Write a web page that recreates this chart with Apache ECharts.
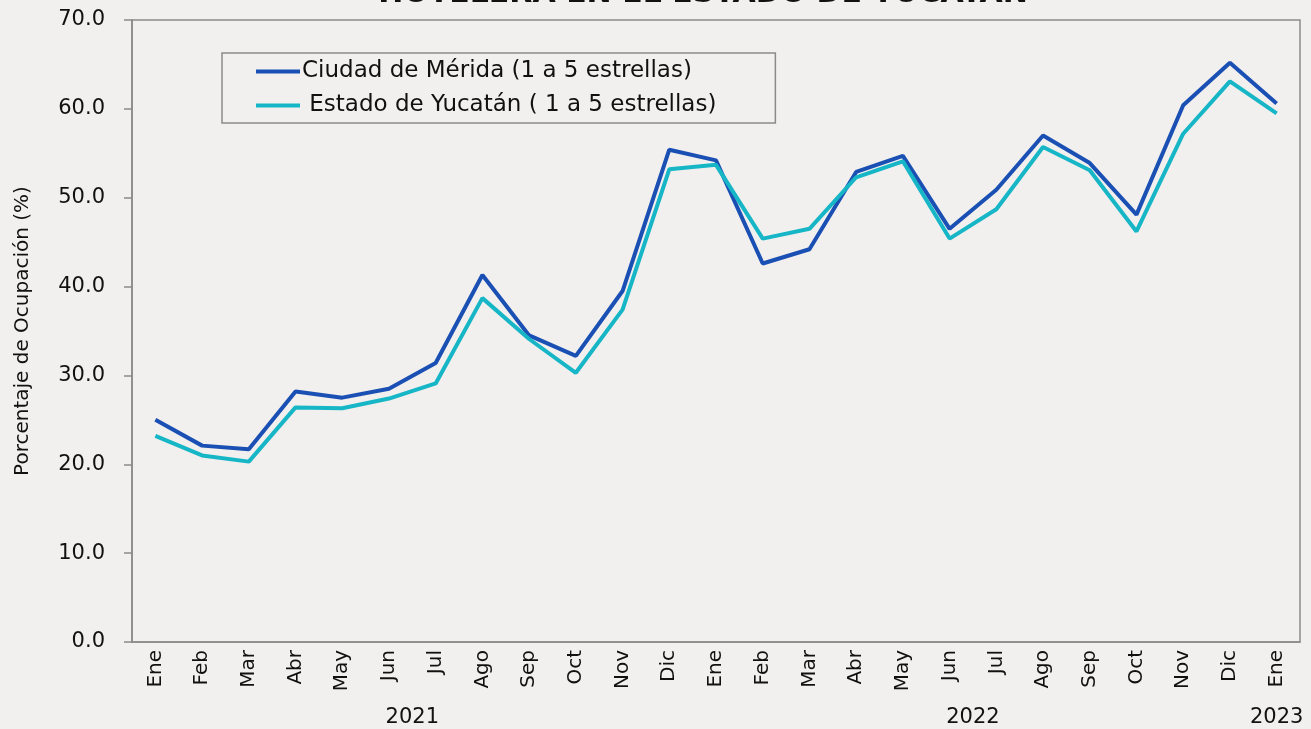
<!DOCTYPE html>
<html>
<head>
<meta charset="utf-8">
<script src="https://cdn.jsdelivr.net/npm/echarts@6/dist/echarts.min.js"></script>
<style>
  html, body { margin: 0; padding: 0; background: #f1f0ee; }
  #chart { width: 1311px; height: 729px; }
</style>
</head>
<body>
<div id="chart"></div>
<script>
const months = ['Ene','Feb','Mar','Abr','May','Jun','Jul','Ago','Sep','Oct','Nov','Dic',
                'Ene','Feb','Mar','Abr','May','Jun','Jul','Ago','Sep','Oct','Nov','Dic','Ene'];
const categories = months.map((m, i) => m + '|' + i);
const years = ['2021', '2022', '2023'];
const yearSpans = [[0, 11], [12, 23], [24, 24]];
const merida = [25.0, 22.1, 21.7, 28.2, 27.5, 28.5, 31.4, 41.3, 34.5, 32.2, 39.5, 55.4,
                54.2, 42.6, 44.2, 52.9, 54.7, 46.5, 50.9, 57.0, 53.9, 48.1, 60.4, 65.2, 60.6];
const yucatan = [23.2, 21.0, 20.3, 26.4, 26.3, 27.4, 29.1, 38.7, 34.1, 30.3, 37.4, 53.2,
                 53.7, 45.4, 46.5, 52.3, 54.1, 45.4, 48.7, 55.7, 53.1, 46.2, 57.2, 63.1, 59.5];
const seriesNames = ['Ciudad de Mérida (1 a 5 estrellas)', ' Estado de Yucatán ( 1 a 5 estrellas)'];
const titleText = 'HOTELERA EN EL ESTADO DE YUCATÁN';
const yName = 'Porcentaje de Ocupación (%)';

const FONT = 'DejaVu Sans';
const chart = echarts.init(document.getElementById('chart'));
const option = {
  backgroundColor: '#f1f0ee',
  animation: false,
  textStyle: { fontFamily: FONT, color: '#111' },
  grid: {
    left: 132, right: 11, top: 20, bottom: 87,
    show: true, borderColor: '#8a8a8a', borderWidth: 1.5, backgroundColor: 'transparent'
  },
  legend: {
    orient: 'vertical',
    left: 222, top: 53,
    padding: [7, 59, 6, 34],
    itemGap: 11,
    icon: 'rect',
    itemWidth: 44, itemHeight: 4,
    backgroundColor: 'transparent',
    borderColor: '#8a8a8a', borderWidth: 1.5,
    textStyle: { fontFamily: FONT, fontSize: 23, color: '#111', padding: [0, 0, 0, -3] },
    data: seriesNames
  },
  xAxis: {
    type: 'category',
    data: categories,
    boundaryGap: true,
    axisLine: { lineStyle: { color: '#8a8a8a', width: 1.5 } },
    axisTick: { show: false },
    axisLabel: {
      rotate: 90, interval: 0, margin: 8,
      fontFamily: FONT, fontSize: 20, color: '#111',
      formatter: v => v.split('|')[0]
    }
  },
  yAxis: {
    type: 'value',
    min: 0, max: 70, interval: 10,
    name: yName,
    nameLocation: 'middle',
    nameGap: 99,
    nameTextStyle: { fontFamily: FONT, fontSize: 20, color: '#111' },
    splitLine: { show: false },
    axisLine: { show: true, lineStyle: { color: '#8a8a8a', width: 1.5 } },
    axisTick: { show: true, length: 8, lineStyle: { color: '#8a8a8a', width: 1.5 } },
    axisLabel: {
      margin: 27, fontFamily: FONT, fontSize: 21, color: '#111',
      formatter: v => v.toFixed(1)
    }
  },
  series: [
    {
      name: seriesNames[0], type: 'line', data: merida, symbol: 'none',
      lineStyle: { color: '#1a4fb4', width: 4 }, itemStyle: { color: '#1a4fb4' }
    },
    {
      name: seriesNames[1], type: 'line', data: yucatan, symbol: 'none',
      lineStyle: { color: '#17b6c7', width: 4 }, itemStyle: { color: '#17b6c7' }
    }
  ]
};
chart.setOption(option);

// Title (cut at the top edge, as in the reference) and year labels from the category axis
const graphics = [{
  type: 'text',
  x: 703, y: 9,
  style: {
    text: titleText, fontFamily: FONT, fontSize: 30, fontWeight: 'bold', fill: '#111',
    align: 'center', verticalAlign: 'bottom'
  }
}];
years.forEach((y, i) => {
  const a = chart.convertToPixel({ xAxisIndex: 0 }, categories[yearSpans[i][0]]);
  const b = chart.convertToPixel({ xAxisIndex: 0 }, categories[yearSpans[i][1]]);
  graphics.push({
    type: 'text',
    x: (a + b) / 2, y: 718,
    style: {
      text: y, fontFamily: FONT, fontSize: 21, fill: '#111',
      align: 'center', verticalAlign: 'middle'
    }
  });
});
chart.setOption({ graphic: graphics });
</script>
</body>
</html>
